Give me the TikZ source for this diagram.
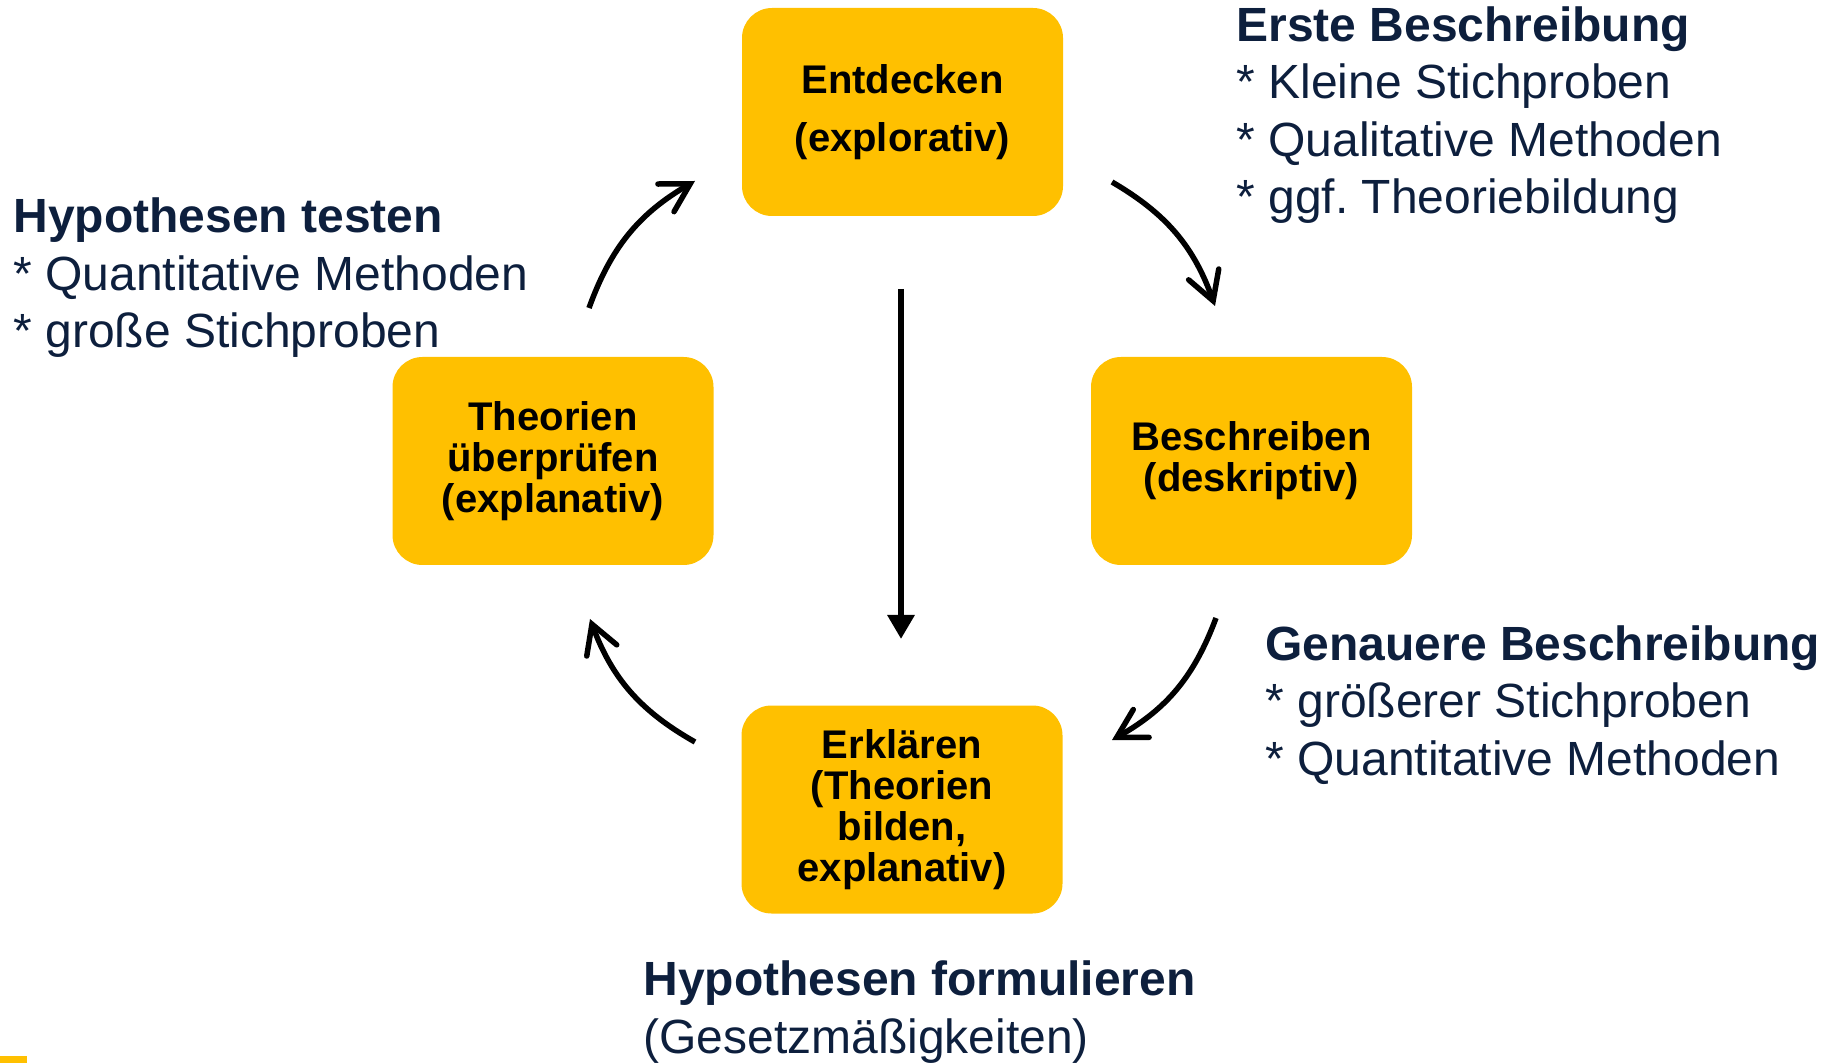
\documentclass[tikz,border=0pt]{standalone}
\usepackage{fontspec}
\setmainfont{Liberation Sans}
\usetikzlibrary{arrows.meta}
\definecolor{boxfill}{HTML}{FFC000}
\definecolor{navy}{HTML}{0D1F3D}
\frenchspacing
\begin{document}
\begin{tikzpicture}[x=0.5pt,y=-0.5pt,
  stage/.style={fill=boxfill, rounded corners=15pt, minimum width=160.5pt,
    minimum height=104pt, align=center, inner sep=0pt, text=black,
    font=\bfseries\fontsize{20}{20.6}\selectfont},
  % notes are placed by the baseline of their last line
  note/.style={anchor=base west, align=left, inner sep=0pt, text=navy,
    font=\fontsize{24}{28.75}\selectfont},
  cyc/.style={line width=2.75pt,
    -{Straight Barb[length=14pt,width=16pt,line cap=round]}},
  down/.style={line width=3.3pt, -{Triangle[length=12pt,width=13pt]}}
]
\useasboundingbox (0,0) rectangle (1831,1063);

% small accent bar in the lower left corner
\fill[boxfill] (0,1056) rectangle (27,1063);

% the four stages of the research cycle
\node[stage] (ent)   at (902.5,112)  {Entdecken\\[8.5pt](explorativ)};
\node[stage] (theo)  at (553,461)    {Theorien\\überprüfen\\(explanativ)};
\node[stage] (besch) at (1251.5,461) {Beschreiben\\(deskriptiv)};
\node[stage] (erkl)  at (902,809.5)  {Erklären\\(Theorien\\bilden,\\explanativ)};

% annotations
\node[note] (n1) at (1236,214) {\textbf{Erste Beschreibung}\\* Kleine Stichproben\\* Qualitative Methoden\\* ggf. Theoriebildung};
\node[note] (n2) at (13,348) {\textbf{Hypothesen testen}\\* Quantitative Methoden\\* große Stichproben};
\node[note] (n3) at (1265,775) {\textbf{Genauere Beschreibung}\\* größerer Stichproben\\* Quantitative Methoden};
\node[note] (n4) at (643,1053) {\textbf{Hypothesen formulieren}\\(Gesetzmäßigkeiten)};

% end points of the cycle arrows
\coordinate (a1s) at (589,308);  \coordinate (a1e) at (695,181);
\coordinate (a2s) at (1112,182); \coordinate (a2e) at (1215,306);
\coordinate (a3s) at (1216,618); \coordinate (a3e) at (1112,740);
\coordinate (a4s) at (695,742);  \coordinate (a4e) at (590,619);
\coordinate (v1)  at (901,289);  \coordinate (v2)  at (901,639);

\draw[cyc] (a1s) to[bend left=20] (a1e);
\draw[cyc] (a2s) to[bend left=20] (a2e);
\draw[cyc] (a3s) to[bend left=20] (a3e);
\draw[cyc] (a4s) to[bend left=20] (a4e);
\draw[down] (v1) -- (v2);
\end{tikzpicture}
\end{document}
